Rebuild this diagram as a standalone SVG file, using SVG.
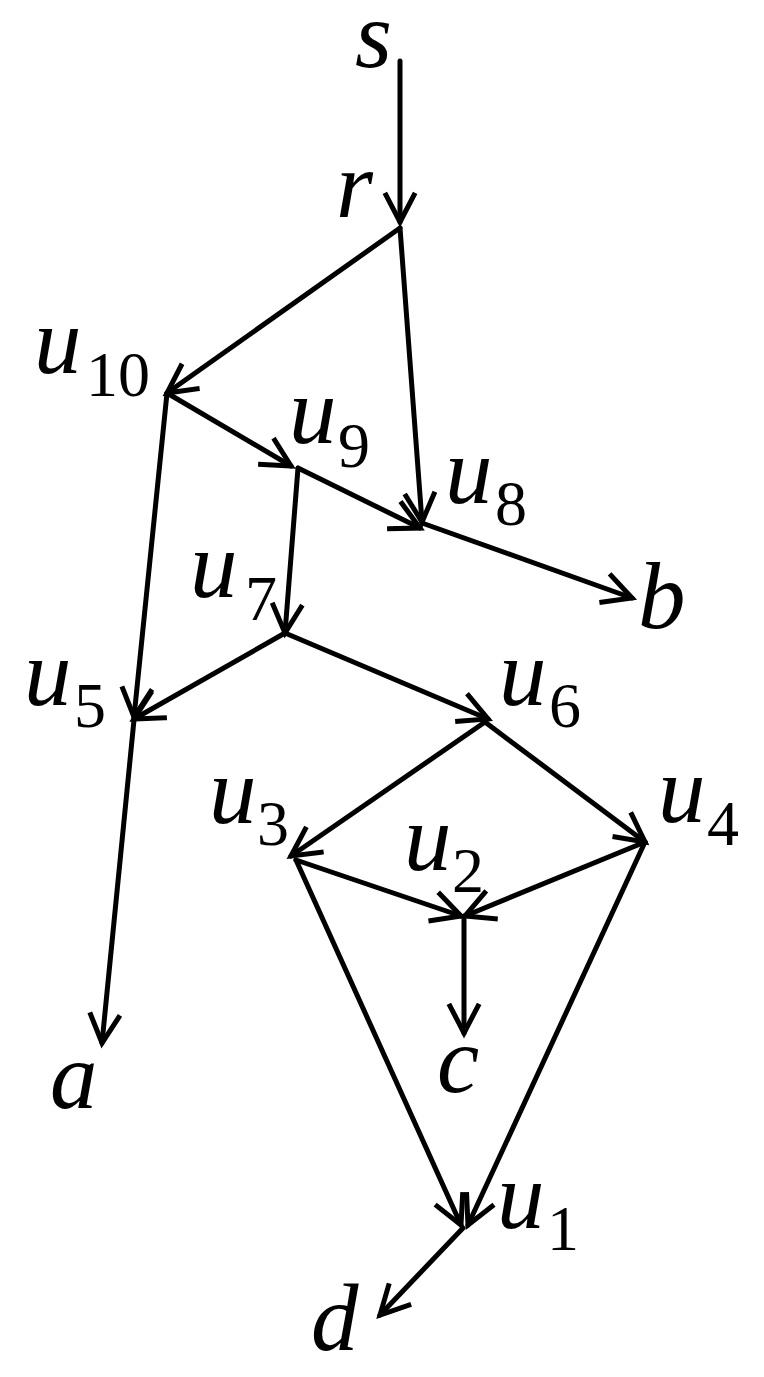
<svg xmlns="http://www.w3.org/2000/svg" width="764" height="1377" viewBox="0 0 764 1377">
<style>
.v{font-family:"Liberation Serif","Times New Roman",serif;font-style:italic;font-size:95px;fill:#000}
.n{font-family:"Liberation Serif","Times New Roman",serif;font-size:64px;fill:#000}
.e line{stroke:#000;stroke-width:5;stroke-linecap:round;fill:none;marker-end:url(#arr)}
</style>
<defs>
<marker id="arr" markerUnits="userSpaceOnUse" markerWidth="40" markerHeight="40" viewBox="-32 -20 40 40" refX="0" refY="0" orient="auto">
<path d="M-27,-14 L0,0 L-27,14" fill="none" stroke="#000" stroke-width="5" stroke-linecap="square" stroke-linejoin="miter"/>
</marker>
</defs>
<rect width="764" height="1377" fill="#fff"/>
<g class="e" id="connectors">
<line x1="400" y1="61" x2="400" y2="222"/>
<line x1="400" y1="228" x2="167" y2="393"/>
<line x1="400" y1="228" x2="422" y2="522"/>
<line x1="167" y1="393" x2="291" y2="466"/>
<line x1="167" y1="393" x2="134" y2="717"/>
<line x1="298" y1="468" x2="420" y2="528"/>
<line x1="298" y1="468" x2="285" y2="633"/>
<line x1="422" y1="523" x2="632" y2="598"/>
<line x1="285" y1="633" x2="134" y2="719"/>
<line x1="285" y1="633" x2="488" y2="719"/>
<line x1="134" y1="720" x2="102" y2="1043"/>
<line x1="485" y1="722" x2="291" y2="856"/>
<line x1="485" y1="722" x2="645" y2="842"/>
<line x1="296" y1="860" x2="461" y2="916"/>
<line x1="645" y1="842" x2="465" y2="916"/>
<line x1="464" y1="916" x2="464" y2="1033"/>
<line x1="296" y1="860" x2="461" y2="1225"/>
<line x1="645" y1="842" x2="468" y2="1225"/>
<line x1="463" y1="1228" x2="380" y2="1315"/>
</g>
<g id="s"><text class="v" x="355" y="67">s</text></g>
<g id="r"><text class="v" x="336" y="217">r</text></g>
<g id="u10"><text class="v" x="34" y="373">u</text><text class="n" x="86" y="396">10</text></g>
<g id="u9"><text class="v" x="289" y="443">u</text><text class="n" x="338" y="467">9</text></g>
<g id="u8"><text class="v" x="445" y="503">u</text><text class="n" x="495" y="525">8</text></g>
<g id="u7"><text class="v" x="190" y="597">u</text><text class="n" x="245" y="620">7</text></g>
<g id="u5"><text class="v" x="24" y="705">u</text><text class="n" x="74" y="727">5</text></g>
<g id="u6"><text class="v" x="499" y="705">u</text><text class="n" x="549" y="727">6</text></g>
<g id="u3"><text class="v" x="209" y="823">u</text><text class="n" x="257" y="845">3</text></g>
<g id="u4"><text class="v" x="658" y="822">u</text><text class="n" x="707" y="845">4</text></g>
<g id="u2"><text class="v" x="404" y="870">u</text><text class="n" x="452" y="892">2</text></g>
<g id="u1"><text class="v" x="497" y="1228">u</text><text class="n" x="547" y="1250">1</text></g>
<g id="b"><text class="v" x="638" y="628">b</text></g>
<g id="a"><text class="v" x="50" y="1108">a</text></g>
<g id="c"><text class="v" x="437" y="1092">c</text></g>
<g id="d"><text class="v" x="311" y="1350">d</text></g>
</svg>
